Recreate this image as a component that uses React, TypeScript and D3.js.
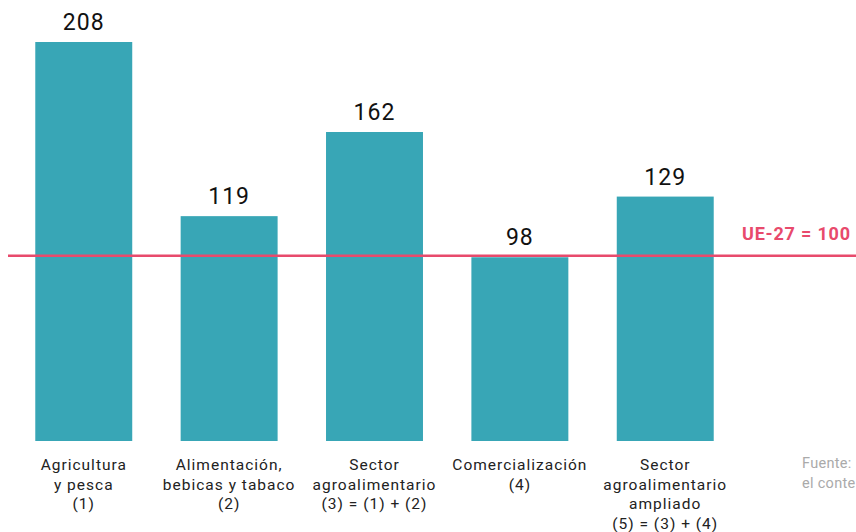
import React from "react";
import * as d3 from "d3";

const categories: string[][] = [
  ["Agricultura", "y pesca", "(1)"],
  ["Alimentación,", "bebicas y tabaco", "(2)"],
  ["Sector", "agroalimentario", "(3) = (1) + (2)"],
  ["Comercialización", "(4)"],
  ["Sector", "agroalimentario", "ampliado", "(5) = (3) + (4)"],
];
const values: number[] = [208, 119, 162, 98, 129];
const referenceValue = 100;
const referenceLabel = "UE-27 = 100";
const sourceLines: string[] = ["Fuente:", "el conte"];

const W = 856;
const H = 532;
const FONT = "Roboto, 'Open Sans', sans-serif";

export default function App() {
  const x = d3
    .scaleBand<number>()
    .domain(d3.range(values.length))
    .range([11, 738])
    .paddingInner(0.333)
    .paddingOuter(0.167);
  const y = d3.scaleLinear().domain([0, 208]).range([449, 42]);
  const plotBottom = 441;

  return (
    <svg
      width={W}
      height={H}
      style={{ position: "absolute", left: 0, top: 0, display: "block" }}
      fontFamily={FONT}
    >
      <rect width={W} height={H} fill="#ffffff" />
      {values.map((v, i) => (
        <g key={i}>
          <rect
            x={x(i)}
            y={y(v)}
            width={x.bandwidth()}
            height={plotBottom - y(v)}
            fill="#38a6b6"
          />
          <text
            x={(x(i) as number) + x.bandwidth() / 2}
            y={y(v) - 12}
            textAnchor="middle"
            fontSize={23}
            letterSpacing={1}
            fill="#111"
          >
            {v}
          </text>
          {categories[i].map((line, j) => (
            <text
              key={j}
              x={(x(i) as number) + x.bandwidth() / 2}
              y={470 + j * 19.5}
              textAnchor="middle"
              fontSize={15.5}
              letterSpacing={1}
              fill="#222"
            >
              {line}
            </text>
          ))}
        </g>
      ))}
      <line
        x1={8}
        x2={W}
        y1={y(referenceValue) + 2.5}
        y2={y(referenceValue) + 2.5}
        stroke="#e84a6c"
        strokeWidth={2.5}
      />
      <text
        x={742}
        y={240}
        fontSize={18}
        fontWeight={700}
        letterSpacing={0.8}
        fill="#e84a6c"
      >
        {referenceLabel}
      </text>
      {sourceLines.map((s, i) => (
        <text key={i} x={802} y={468 + i * 20} fontSize={14.5} letterSpacing={0.3} fill="#aaaaaa">
          {s}
        </text>
      ))}
    </svg>
  );
}
